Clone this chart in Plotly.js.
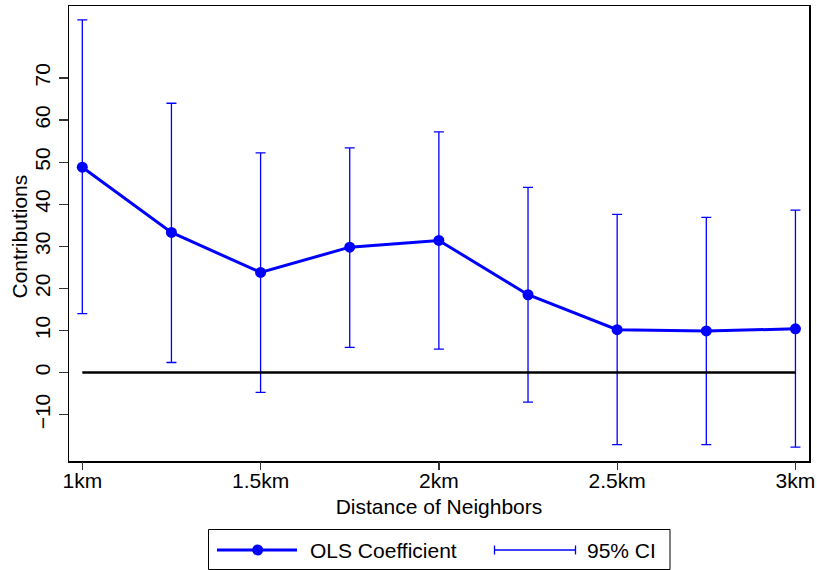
<!DOCTYPE html>
<html>
<head>
<meta charset="utf-8">
<script src="https://cdn.plot.ly/plotly-3.0.1.min.js"></script>
<style>
  html, body { margin: 0; padding: 0; background: #ffffff; }
  #chart { width: 817px; height: 570px; }
</style>
</head>
<body>
<div id="chart"></div>
<script>
// ---- data ----
const distances = [1, 1.25, 1.5, 1.75, 2, 2.25, 2.5, 2.75, 3];
const coefficients = [48.8, 33.3, 23.8, 29.8, 31.4, 18.5, 10.2, 9.9, 10.4];
const ciUpper = [83.8, 64.0, 52.2, 53.4, 57.2, 44.0, 37.6, 36.9, 38.6];
const ciLower = [14.0, 2.4, -4.7, 6.0, 5.6, -7.0, -17.1, -17.1, -17.7];
const xTickVals = [1, 1.5, 2, 2.5, 3];
const xTickText = ['1km', '1.5km', '2km', '2.5km', '3km'];
const yTickVals = [-10, 0, 10, 20, 30, 40, 50, 60, 70];
const zeroLineX = [1, 3];
const zeroLineY = [0, 0];
const legendLabels = ['OLS Coefficient', '95% CI'];
const xTitle = 'Distance of Neighbors';
const yTitle = 'Contributions';

const FONT = 'Liberation Sans, Arial, Helvetica, sans-serif';
const FS = 21;
const BLUE = '#0000ff';
const XRANGE = [0.9627, 3.038];

// plot area geometry in pixels
const W = 817, H = 570;
const M = { l: 69, r: 8, t: 6, b: 109 };
const pw = W - M.l - M.r, ph = H - M.t - M.b;
const px = x => (x - M.l) / pw;
const py = y => (H - M.b - y) / ph;

const errPlus = ciUpper.map((u, i) => u - coefficients[i]);
const errMinus = ciLower.map((l, i) => coefficients[i] - l);

const traces = [
  {
    x: distances, y: coefficients, type: 'scatter', mode: 'markers',
    marker: { size: 1, color: BLUE, opacity: 0 },
    error_y: { type: 'data', symmetric: false, array: errPlus, arrayminus: errMinus,
               color: BLUE, thickness: 1.3, width: 5 },
    showlegend: false, hoverinfo: 'skip'
  },
  {
    x: zeroLineX, y: zeroLineY, type: 'scatter', mode: 'lines', xaxis: 'x2',
    line: { color: '#000000', width: 2.5 },
    showlegend: false, hoverinfo: 'skip'
  },
  {
    x: distances, y: coefficients, type: 'scatter', mode: 'lines+markers',
    line: { color: BLUE, width: 3 },
    marker: { color: BLUE, size: 11 },
    showlegend: false
  }
];

// manual legend (Stata-style box)
const lgY = 550;
const shapes = [
  { type: 'rect', xref: 'paper', yref: 'paper', x0: px(208.5), x1: px(670), y0: py(569.5), y1: py(529.5),
    line: { color: '#000000', width: 1 }, fillcolor: 'rgba(0,0,0,0)' },
  { type: 'line', xref: 'paper', yref: 'paper', x0: px(217), x1: px(297), y0: py(lgY), y1: py(lgY),
    line: { color: BLUE, width: 3 } },
  { type: 'circle', xref: 'paper', yref: 'paper', x0: px(252.2), x1: px(263.2), y0: py(lgY - 5.5), y1: py(lgY + 5.5),
    line: { color: BLUE, width: 0 }, fillcolor: BLUE },
  { type: 'line', xref: 'paper', yref: 'paper', x0: px(494.5), x1: px(575.5), y0: py(lgY), y1: py(lgY),
    line: { color: BLUE, width: 1.3 } },
  { type: 'line', xref: 'paper', yref: 'paper', x0: px(494.5), x1: px(494.5), y0: py(lgY - 4.5), y1: py(lgY + 4.5),
    line: { color: BLUE, width: 1.3 } },
  { type: 'line', xref: 'paper', yref: 'paper', x0: px(575.5), x1: px(575.5), y0: py(lgY - 4.5), y1: py(lgY + 4.5),
    line: { color: BLUE, width: 1.3 } }
];

const annotations = [
  { xref: 'paper', yref: 'paper', x: px(308), y: py(lgY), xanchor: 'left', yanchor: 'middle',
    text: legendLabels[0], showarrow: false, font: { family: FONT, size: FS, color: '#000' } },
  { xref: 'paper', yref: 'paper', x: px(585), y: py(lgY), xanchor: 'left', yanchor: 'middle',
    text: legendLabels[1], showarrow: false, font: { family: FONT, size: FS, color: '#000' } },
  { xref: 'paper', yref: 'paper', x: px(19), y: py(236.5), xanchor: 'center', yanchor: 'middle',
    textangle: -90, text: yTitle, showarrow: false, font: { family: FONT, size: FS, color: '#000' } }
];

const layout = {
  width: W, height: H,
  margin: M,
  paper_bgcolor: '#ffffff', plot_bgcolor: '#ffffff',
  font: { family: FONT, size: FS, color: '#000000' },
  showlegend: false,
  xaxis: {
    range: XRANGE,
    tickvals: xTickVals, ticktext: xTickText,
    ticks: '',
    showline: true, linecolor: '#000000', linewidth: 1.5, mirror: true,
    showgrid: false, zeroline: false,
    tickfont: { family: FONT, size: FS, color: '#000' },
    ticklabelstandoff: 0,
    title: { text: xTitle, font: { family: FONT, size: FS, color: '#000' }, standoff: 8 }
  },
  xaxis2: {
    range: XRANGE, overlaying: 'x', anchor: 'y', side: 'bottom',
    tickvals: xTickVals, showticklabels: false,
    ticks: 'outside', ticklen: 8, tickwidth: 1.3, tickcolor: '#333333',
    showline: false, showgrid: false, zeroline: false
  },
  yaxis: {
    range: [-21.0, 87.1],
    tickvals: yTickVals,
    tickangle: -90,
    ticks: 'outside', ticklen: 9, tickwidth: 1.3, tickcolor: '#333333',
    showline: true, linecolor: '#000000', linewidth: 1.5, mirror: true,
    showgrid: false, zeroline: false,
    tickfont: { family: FONT, size: FS, color: '#000' }
  },
  shapes: shapes,
  annotations: annotations
};

Plotly.newPlot('chart', traces, layout, { staticPlot: true, displayModeBar: false });
</script>
</body>
</html>
